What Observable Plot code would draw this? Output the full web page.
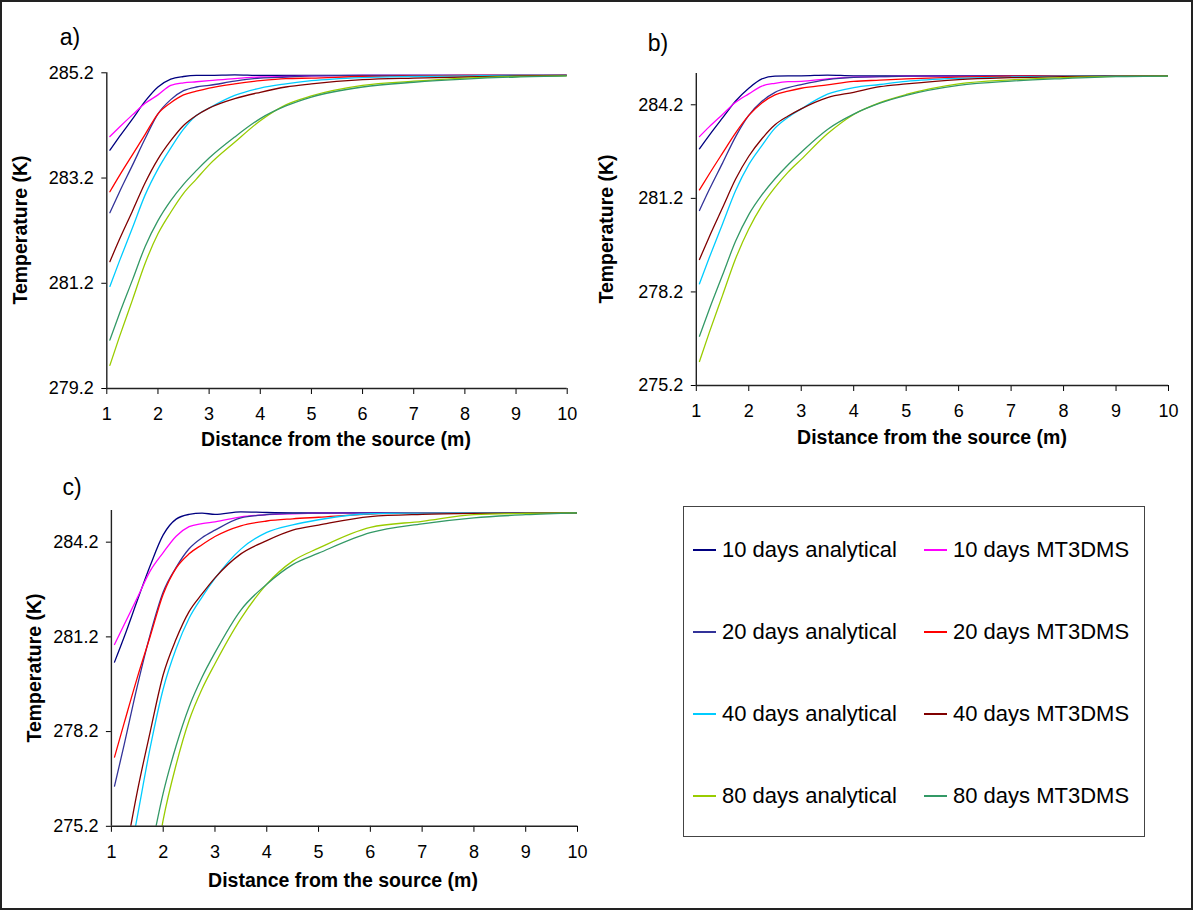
<!DOCTYPE html>
<html><head><meta charset="utf-8">
<script src="https://cdn.jsdelivr.net/npm/d3@7"></script>
<script src="https://cdn.jsdelivr.net/npm/@observablehq/plot@0.6"></script>
<style>
body{margin:0;background:#fff;font-family:"Liberation Sans",Arial,sans-serif;color:#000;}
#fig{position:relative;width:1195px;height:911px;overflow:hidden;background:#fff;}
.frame{position:absolute;left:0;top:0;width:1189px;height:906px;border:2px solid #222;}
.panel{position:absolute;}
.lab{position:absolute;font-size:23px;line-height:1;transform:translate(-50%,-50%);white-space:nowrap;}
.xt{position:absolute;font-weight:bold;font-size:19.5px;line-height:1;transform:translate(-50%,-50%);white-space:nowrap;}
.yt{position:absolute;font-weight:bold;font-size:19.5px;line-height:1;transform:translate(-50%,-50%) rotate(-90deg);white-space:nowrap;}
.legend{position:absolute;left:683px;top:506px;width:460px;height:329px;border:1.3px solid #444;}
.li{position:absolute;font-size:22px;line-height:1;white-space:nowrap;transform:translateY(-50%);}
.sw{position:absolute;height:1.5px;width:23px;}
</style></head>
<body>
<div id="fig"><div class="frame"></div></div>
<script>
// ---- data ----
const seriesNames = ["10 days analytical","10 days MT3DMS","20 days analytical","20 days MT3DMS",
                     "40 days analytical","40 days MT3DMS","80 days analytical","80 days MT3DMS"];
const seriesColors = ["#000080","#ff00ff","#333399","#ff0000","#00ccff","#800000","#99cc00","#339966"];
const distance = [1.06,1.25,1.5,1.75,2,2.25,2.5,2.75,3,3.5,4,4.5,5,6,7,8,9,10];
const xTicks = [1,2,3,4,5,6,7,8,9,10];

// panel a)
const a10A = [283.73,283.99,284.32,284.66,284.93,285.08,285.13,285.15,285.15,285.16,285.15,285.15,285.15,285.15,285.15,285.15,285.15,285.15];
const a10M = [283.99,284.17,284.40,284.62,284.78,284.96,285.01,285.03,285.05,285.09,285.12,285.13,285.14,285.15,285.15,285.15,285.15,285.15];
const a20A = [282.54,282.94,283.44,283.95,284.42,284.69,284.86,284.93,284.96,285.04,285.10,285.12,285.14,285.15,285.15,285.15,285.15,285.15];
const a20M = [282.94,283.25,283.64,284.03,284.42,284.63,284.78,284.85,284.91,284.99,285.05,285.09,285.10,285.13,285.14,285.15,285.15,285.15];
const a40A = [281.14,281.63,282.25,282.88,283.37,283.77,284.13,284.39,284.53,284.77,284.91,284.99,285.05,285.11,285.13,285.14,285.15,285.15];
const a40M = [281.61,282.04,282.57,283.11,283.56,283.91,284.20,284.39,284.53,284.71,284.83,284.93,284.99,285.07,285.10,285.12,285.14,285.15];
const a80A = [279.64,280.19,280.88,281.58,282.14,282.55,282.91,283.18,283.45,283.88,284.29,284.59,284.76,284.96,285.04,285.10,285.13,285.14];
const a80M = [280.12,280.63,281.26,281.90,282.39,282.77,283.08,283.34,283.58,283.98,284.33,284.57,284.74,284.93,285.02,285.08,285.12,285.14];
const aTicks = [279.2,281.2,283.2,285.2];

// panel b)
const b10A = [282.79,283.23,283.78,284.32,284.73,285.03,285.12,285.13,285.13,285.15,285.13,285.13,285.13,285.13,285.13,285.13,285.13,285.13];
const b10M = [283.18,283.50,283.89,284.28,284.55,284.80,284.89,284.94,284.95,285.03,285.09,285.10,285.12,285.13,285.13,285.13,285.13,285.13];
const b20A = [280.81,281.49,282.33,283.18,283.86,284.31,284.60,284.75,284.85,285.01,285.08,285.10,285.12,285.13,285.13,285.13,285.13,285.13];
const b20M = [281.47,281.99,282.65,283.30,283.86,284.26,284.52,284.64,284.73,284.84,284.95,284.99,285.03,285.09,285.12,285.13,285.13,285.13];
const b40A = [278.46,279.31,280.38,281.45,282.28,282.89,283.45,283.80,284.07,284.54,284.75,284.85,284.95,285.05,285.09,285.12,285.13,285.13];
const b40M = [279.24,279.98,280.90,281.82,282.55,283.11,283.56,283.84,284.07,284.43,284.60,284.78,284.87,285.01,285.07,285.10,285.12,285.13];
const b80A = [275.97,276.91,278.09,279.27,280.22,280.97,281.55,282.04,282.45,283.27,283.89,284.27,284.53,284.87,285.00,285.07,285.11,285.12];
const b80M = [276.78,277.65,278.74,279.83,280.68,281.31,281.83,282.28,282.68,283.41,283.90,284.25,284.50,284.82,284.96,285.04,285.10,285.12];
const bTicks = [275.2,278.2,281.2,284.2];

// panel c)
const c10A = [280.40,281.21,282.35,283.46,284.43,284.93,285.08,285.12,285.08,285.16,285.14,285.13,285.13,285.13,285.13,285.13,285.13,285.13];
const c10M = [280.96,281.60,282.44,283.29,283.87,284.39,284.69,284.79,284.84,285.00,285.07,285.10,285.12,285.13,285.13,285.13,285.13,285.13];
const c20A = [276.47,277.81,279.64,281.28,282.62,283.40,283.99,284.34,284.58,284.97,285.07,285.11,285.12,285.13,285.13,285.13,285.13,285.13];
const c20M = [277.39,278.49,279.91,281.22,282.55,283.38,283.83,284.12,284.38,284.72,284.87,284.94,284.99,285.09,285.12,285.13,285.13,285.13];
const c40A = [271.6,273.3,275.5,277.7,279.55,280.83,281.79,282.46,283.05,283.98,284.51,284.75,284.91,285.10,285.12,285.13,285.13,285.13];
const c40M = [272.4,274.1,276.3,278.2,280.0,281.13,282.0,282.56,283.07,283.83,284.25,284.58,284.74,285.01,285.08,285.11,285.12,285.13];
const c80A = [266.5,268.3,270.6,272.9,275.4,277.15,278.55,279.55,280.35,281.78,282.87,283.60,284.01,284.67,284.86,285.07,285.11,285.13];
const c80M = [268.5,270.2,272.3,274.3,276.25,277.75,278.98,279.92,280.70,282.05,282.87,283.49,283.85,284.50,284.78,284.97,285.07,285.13];
const cTicks = [275.2,278.2,281.2,284.2];

const panels = [
  {label:"a)", series:[a10A,a10M,a20A,a20M,a40A,a40M,a80A,a80M], yMin:279.2, yMax:285.2, yTicks:aTicks,
   left:0, top:0, width:600, height:460, mL:106.3, mR:33.3, mT:72.3, mB:72,
   lab:[70,37], xt:[336,440], yt:[21,230]},
  {label:"b)", series:[b10A,b10M,b20A,b20M,b40A,b40M,b80A,b80M], yMin:275.2, yMax:285.2, yTicks:bTicks,
   left:590, top:0, width:605, height:460, mL:105.8, mR:27, mT:73.1, mB:75,
   lab:[658,43], xt:[932,438], yt:[607,229]},
  {label:"c)", series:[c10A,c10M,c20A,c20M,c40A,c40M,c80A,c80M], yMin:275.2, yMax:285.2, yTicks:cTicks,
   left:0, top:460, width:600, height:451, mL:110.9, mR:23, mT:50.1, mB:85.2,
   lab:[72,487], xt:[343,881], yt:[35,668]}
];

const fig = document.getElementById("fig");
function addDiv(cls, text, x, y) {
  const d = document.createElement("div");
  d.className = cls; d.textContent = text;
  d.style.left = x + "px"; d.style.top = y + "px";
  fig.appendChild(d); return d;
}

for (const p of panels) {
  const marks = p.series.map((vals, i) =>
    Plot.line(distance.map((d, j) => [d, vals[j]]),
      {stroke: seriesColors[i], strokeWidth: 1.3, curve: "monotone-x", clip: true}));
  marks.push(Plot.ruleX([1], {y1: p.yMin, y2: p.yMax, stroke: "#222", strokeWidth: 1.4}));
  marks.push(Plot.ruleY([p.yMin], {x1: 1, x2: 10, stroke: "#222", strokeWidth: 1.4}));
  const svg = Plot.plot({
    width: p.width, height: p.height,
    marginLeft: p.mL, marginRight: p.mR, marginTop: p.mT, marginBottom: p.mB,
    style: {fontFamily: "'Liberation Sans', Arial, sans-serif", fontSize: "18px", color: "#000", background: "transparent", overflow: "visible"},
    x: {domain: [1, 10], ticks: xTicks, tickFormat: d => String(d), tickSize: 6, tickPadding: 13, label: null},
    y: {domain: [p.yMin, p.yMax], ticks: p.yTicks, tickFormat: d => d.toFixed(1), tickSize: 5, tickPadding: 8, label: null},
    marks
  });
  const holder = document.createElement("div");
  holder.className = "panel";
  holder.style.left = p.left + "px"; holder.style.top = p.top + "px";
  holder.appendChild(svg);
  fig.appendChild(holder);
  addDiv("lab", p.label, p.lab[0], p.lab[1]);
  addDiv("xt", "Distance from the source (m)", p.xt[0], p.xt[1]);
  addDiv("yt", "Temperature (K)", p.yt[0], p.yt[1]);
}

// legend
const leg = document.createElement("div");
leg.className = "legend";
fig.appendChild(leg);
const rowY = [550, 632, 714, 796];
const colLine = [693, 924];
const colText = [722, 953];
seriesNames.forEach((name, i) => {
  const col = i % 2, row = Math.floor(i / 2);
  const sw = document.createElement("div");
  sw.className = "sw";
  sw.style.left = colLine[col] + "px";
  sw.style.top = (rowY[row] - 0.75) + "px";
  sw.style.backgroundColor = seriesColors[i];
  fig.appendChild(sw);
  addDiv("li", name, colText[col], rowY[row]);
});
</script>
</body></html>
